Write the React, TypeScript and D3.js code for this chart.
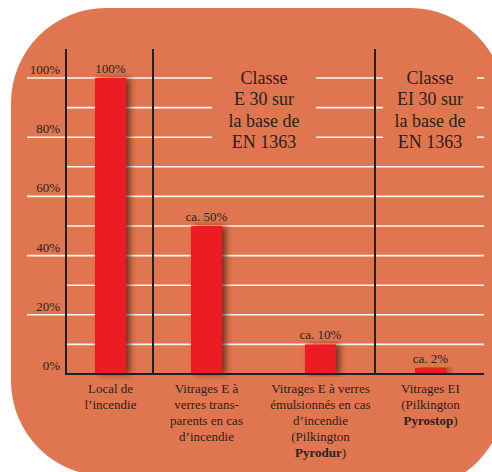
import React, { useRef, useEffect } from 'react'
import * as d3 from 'd3'

// chart data
const categories = ['local', 'e-transparent', 'e-emulsion', 'ei']
const values = [100, 50, 10, 2]
const valueLabels = ['100%', 'ca. 50%', 'ca. 10%', 'ca. 2%']
const yTicks = [0, 20, 40, 60, 80, 100]
const gridValues = [10, 20, 30, 40, 50, 60, 70, 80, 90, 100]

type Seg = { text: string; bold?: boolean }
const categoryLabels: Seg[][][] = [
  [[{ text: 'Local de' }], [{ text: 'l\u2019incendie' }]],
  [
    [{ text: 'Vitrages E à' }],
    [{ text: 'verres trans-' }],
    [{ text: 'parents en cas' }],
    [{ text: 'd\u2019incendie' }]
  ],
  [
    [{ text: 'Vitrages E à verres' }],
    [{ text: 'émulsionnés en cas' }],
    [{ text: 'd\u2019incendie' }],
    [{ text: '(Pilkington' }],
    [{ text: 'Pyrodur', bold: true }, { text: ')' }]
  ],
  [
    [{ text: 'Vitrages EI' }],
    [{ text: '(Pilkington' }],
    [{ text: 'Pyrostop', bold: true }, { text: ')' }]
  ]
]

const classBlocks = [
  ['Classe', 'E 30 sur', 'la base de', 'EN 1363'],
  ['Classe', 'EI 30 sur', 'la base de', 'EN 1363']
]

const BG = '#E0764F'
const INK = '#2a1f1d'
const FONT = '"Liberation Serif", "Times New Roman", serif'

const App: React.FC = () => {
  const svgRef = useRef<SVGSVGElement>(null)

  useEffect(() => {
    if (!svgRef.current) return
    const svg = d3.select(svgRef.current)
    svg.selectAll('*').remove()

    const defs = svg.append('defs')
    const f = defs.append('filter')
      .attr('id', 'barShadow')
      .attr('x', '-50%').attr('y', '-10%')
      .attr('width', '200%').attr('height', '120%')
    f.append('feGaussianBlur').attr('in', 'SourceAlpha').attr('stdDeviation', 3).attr('result', 'blur')
    f.append('feOffset').attr('in', 'blur').attr('dx', 4).attr('dy', 0).attr('result', 'off')
    f.append('feFlood').attr('flood-color', '#4a1e10').attr('flood-opacity', 0.75)
    f.append('feComposite').attr('in2', 'off').attr('operator', 'in').attr('result', 'shadow')
    const merge = f.append('feMerge')
    merge.append('feMergeNode').attr('in', 'shadow')
    merge.append('feMergeNode').attr('in', 'SourceGraphic')

    // rounded background panel
    svg.append('path')
      .attr('d', 'M11,103 A95,95 0 0 1 106,8 L410,8 A95,95 0 0 1 505,103 L505,395 A95,95 0 0 1 410,490 L106,476 A95,95 0 0 1 11,381 Z')
      .attr('fill', BG)

    const x = d3.scaleOrdinal<string, number>()
      .domain(categories)
      .range([110.5, 206.5, 320.5, 430.5])
    const barWidth = 31

    const y = d3.scaleLinear().domain([0, 100]).range([374, 78])

    const axisLeft = 66
    const axisRight = 484
    const separators = [axisLeft, 153, 375]
    const textGaps: [number, number][] = [[212, 316], [383, 477]]

    // gridlines
    const grid = svg.append('g')
    gridValues.forEach(v => {
      const start = v % 20 === 0 ? 27 : axisLeft
      let segs: [number, number][] = [[start, axisRight]]
      if (v >= 80) {
        segs = []
        let cur = start
        textGaps.forEach(([a, b]) => {
          segs.push([cur, a])
          cur = b
        })
        segs.push([cur, axisRight])
      }
      segs.forEach(([a, b]) => {
        grid.append('line')
          .attr('x1', a).attr('x2', b)
          .attr('y1', y(v)).attr('y2', y(v))
          .attr('stroke', '#fff')
          .attr('stroke-opacity', 0.92)
          .attr('stroke-width', 1.6)
      })
    })

    // y tick labels
    svg.append('g')
      .selectAll('text')
      .data(yTicks)
      .enter()
      .append('text')
      .attr('x', 60)
      .attr('y', d => y(d) - 4)
      .attr('text-anchor', 'end')
      .style('font-family', FONT)
      .style('font-size', '13px')
      .attr('fill', INK)
      .text(d => `${d}%`)

    // bars
    svg.append('g')
      .selectAll('rect')
      .data(values)
      .enter()
      .append('rect')
      .attr('x', (d, i) => x(categories[i]) - barWidth / 2)
      .attr('y', d => y(d))
      .attr('width', barWidth)
      .attr('height', d => y(0) - y(d))
      .attr('fill', '#ED1C24')
      .attr('filter', 'url(#barShadow)')

    // value labels
    svg.append('g')
      .selectAll('text')
      .data(values)
      .enter()
      .append('text')
      .attr('x', (d, i) => x(categories[i]))
      .attr('y', d => y(d) - 5)
      .attr('text-anchor', 'middle')
      .style('font-family', FONT)
      .style('font-size', '13px')
      .attr('fill', INK)
      .text((d, i) => valueLabels[i])

    // frame lines
    separators.forEach(sx => {
      svg.append('line')
        .attr('x1', sx).attr('x2', sx)
        .attr('y1', 49).attr('y2', y(0))
        .attr('stroke', '#231f20')
        .attr('stroke-width', 2)
    })
    svg.append('line')
      .attr('x1', axisLeft - 1).attr('x2', axisRight)
      .attr('y1', y(0)).attr('y2', y(0))
      .attr('stroke', '#231f20')
      .attr('stroke-width', 2)

    // class annotations
    const blockX = [264, 430]
    classBlocks.forEach((lines, bi) => {
      const t = svg.append('text')
        .attr('text-anchor', 'middle')
        .style('font-family', FONT)
        .style('font-size', '18px')
        .attr('fill', INK)
      lines.forEach((line, li) => {
        t.append('tspan')
          .attr('x', blockX[bi])
          .attr('y', 84 + li * 21.3)
          .text(line)
      })
    })

    // category labels
    categoryLabels.forEach((lines, ci) => {
      const t = svg.append('text')
        .attr('text-anchor', 'middle')
        .style('font-family', FONT)
        .style('font-size', '13px')
        .attr('fill', INK)
      lines.forEach((segs, li) => {
        segs.forEach((s, si) => {
          const ts = t.append('tspan').text(s.text)
          if (si === 0) ts.attr('x', x(categories[ci])).attr('y', 393 + li * 15.9)
          if (s.bold) ts.style('font-weight', 'bold')
        })
      })
    })
  }, [])

  return (
    <svg
      ref={svgRef}
      width={492}
      height={472}
      style={{ position: 'absolute', left: 0, top: 0, background: '#fff' }}
    />
  )
}

export default App
